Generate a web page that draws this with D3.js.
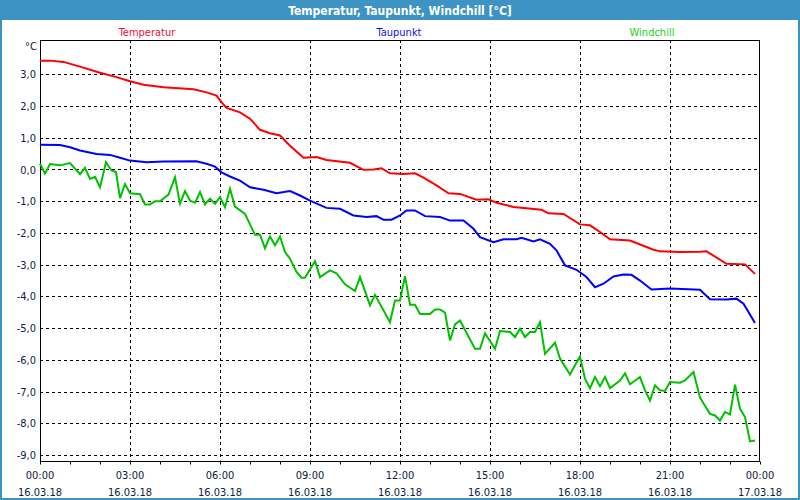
<!DOCTYPE html>
<html><head><meta charset="utf-8">
<script src="https://cdn.jsdelivr.net/npm/d3@7"></script>
<style>
html,body{margin:0;padding:0;background:#fff;}
svg{display:block;}
text{font-family:"DejaVu Sans Condensed","DejaVu Sans",sans-serif;}
</style></head><body>
<svg id="chart" width="800" height="500"></svg>
<script>
const title = "Temperatur, Taupunkt, Windchill [°C]";
const seriesNames = ["Temperatur", "Taupunkt", "Windchill"];
const seriesColors = ["#ff0000", "#0000ff", "#00c000"];
const legendColors = ["#f0103c", "#1010e0", "#20d020"];
const yTicks = [3, 2, 1, 0, -1, -2, -3, -4, -5, -6, -7, -8, -9];
const xTickHours = [0, 3, 6, 9, 12, 15, 18, 21, 24];
const xTickTimes = ["00:00","03:00","06:00","09:00","12:00","15:00","18:00","21:00","00:00"];
const xTickDates = ["16.03.18","16.03.18","16.03.18","16.03.18","16.03.18","16.03.18","16.03.18","16.03.18","17.03.18"];

// minutes since 16.03.18 00:00
const tempMinutes = [0,20,47,80,120,153,180,207,247,307,333,353,363,373,400,420,440,460,480,500,527,553,573,620,647,667,683,700,727,750,767,793,817,840,873,897,913,947,1003,1017,1047,1080,1100,1120,1140,1180,1227,1240,1280,1320,1333,1373,1410,1430];
const tempValues = [3.43,3.43,3.39,3.24,3.05,2.91,2.78,2.67,2.59,2.53,2.43,2.33,2.12,1.94,1.80,1.60,1.25,1.14,1.07,0.75,0.37,0.39,0.30,0.21,-0.01,0.0,0.04,-0.12,-0.14,-0.12,-0.26,-0.50,-0.75,-0.77,-0.95,-0.94,-1.05,-1.18,-1.27,-1.38,-1.40,-1.73,-1.76,-1.97,-2.20,-2.24,-2.53,-2.58,-2.60,-2.59,-2.58,-2.97,-2.99,-3.29];

const dewMinutes = [0,40,60,80,113,140,160,180,213,247,313,333,350,363,380,400,420,447,473,500,520,540,573,600,627,653,673,687,703,720,733,750,770,800,820,847,867,880,907,927,953,963,987,1000,1020,1033,1050,1073,1093,1110,1127,1147,1167,1183,1200,1223,1260,1320,1340,1373,1393,1407,1430];
const dewValues = [0.78,0.77,0.70,0.60,0.49,0.46,0.37,0.28,0.23,0.25,0.26,0.18,0.09,-0.09,-0.22,-0.35,-0.56,-0.64,-0.75,-0.68,-0.82,-0.98,-1.21,-1.24,-1.45,-1.50,-1.47,-1.58,-1.58,-1.45,-1.29,-1.29,-1.47,-1.50,-1.61,-1.61,-1.87,-2.13,-2.29,-2.20,-2.20,-2.15,-2.27,-2.20,-2.34,-2.55,-3.02,-3.16,-3.39,-3.71,-3.60,-3.37,-3.31,-3.32,-3.50,-3.78,-3.75,-3.79,-4.09,-4.10,-4.07,-4.23,-4.84];

const chillMinutes = [0,10,20,40,60,80,90,100,110,120,132,143,152,160,170,180,200,210,220,230,240,257,270,280,290,300,310,320,330,340,350,360,370,380,390,410,430,440,450,460,470,480,490,500,513,523,530,550,560,580,593,610,630,640,660,670,700,710,720,730,740,750,760,780,790,800,810,820,830,840,870,880,890,910,920,940,950,960,970,980,990,1000,1010,1030,1040,1060,1070,1080,1090,1100,1110,1120,1130,1140,1160,1170,1180,1200,1210,1220,1230,1240,1250,1260,1280,1290,1307,1320,1340,1350,1360,1370,1380,1390,1400,1410,1420,1430];
const chillValues = [0.18,-0.13,0.17,0.13,0.20,-0.15,0.05,-0.30,-0.23,-0.56,0.23,-0.03,-0.08,-0.90,-0.46,-0.75,-0.78,-1.10,-1.10,-1.00,-1.00,-0.79,-0.24,-1.08,-0.68,-0.98,-1.05,-0.71,-1.10,-0.92,-1.08,-0.87,-1.19,-0.61,-1.17,-1.40,-2.06,-2.06,-2.48,-2.11,-2.39,-2.11,-2.60,-2.81,-3.23,-3.41,-3.41,-2.89,-3.39,-3.18,-3.27,-3.62,-3.83,-3.39,-4.28,-3.95,-4.81,-4.13,-4.13,-3.36,-4.26,-4.26,-4.55,-4.55,-4.41,-4.41,-4.51,-5.39,-4.88,-4.76,-5.65,-5.65,-5.16,-5.65,-5.09,-5.12,-5.28,-5.02,-5.28,-5.12,-5.12,-4.81,-5.81,-5.46,-5.96,-6.46,-6.17,-5.89,-6.59,-6.89,-6.54,-6.83,-6.54,-6.89,-6.65,-6.42,-6.77,-6.54,-6.96,-7.28,-6.80,-6.96,-6.98,-6.70,-6.72,-6.65,-6.38,-7.19,-7.70,-7.75,-7.91,-7.64,-7.72,-6.78,-7.54,-7.80,-8.57,-8.54];

const svg = d3.select("#chart");
const W = 800, H = 500;
const L = 40, R = 760, T = 40, B = 460.5;

// window frame
svg.append("rect").attr("x",0).attr("y",0).attr("width",W).attr("height",H).attr("fill","#3d93c4");
svg.append("rect").attr("x",2).attr("y",20).attr("width",W-4).attr("height",H-22).attr("fill","#ffffff");
svg.append("text").attr("x",W/2).attr("y",14.5).attr("text-anchor","middle")
  .attr("fill","#ffffff").attr("font-weight","bold").attr("font-size","12px").text(title);

const x = d3.scaleLinear().domain([0, 1440]).range([L, R]);
const y = d3.scaleLinear().domain([-9.17, 4.08]).range([B, T]);

// grid
const g = svg.append("g");
g.selectAll("line.hg").data(yTicks).join("line")
  .attr("x1",L).attr("x2",R).attr("y1",d=>Math.round(y(d))+0.5).attr("y2",d=>Math.round(y(d))+0.5)
  .attr("stroke","#000").attr("stroke-width",1).attr("stroke-dasharray","3,3");
g.selectAll("line.vg").data(xTickHours.slice(1,-1)).join("line")
  .attr("x1",d=>Math.round(x(d*60))+0.5).attr("x2",d=>Math.round(x(d*60))+0.5).attr("y1",T).attr("y2",B)
  .attr("stroke","#000").attr("stroke-width",1).attr("stroke-dasharray","3,3");

// axes
const yAxis = d3.axisLeft(y).tickValues(yTicks).tickSize(0).tickPadding(4)
  .tickFormat(d => d3.format(".1f")(d).replace(".", ",").replace("−","-"));
const ya = svg.append("g").attr("transform",`translate(${L},0)`).call(yAxis);
ya.select(".domain").remove();
ya.selectAll("text").attr("font-size","11px").attr("fill","#102040").attr("font-family","'DejaVu Sans Condensed','DejaVu Sans',sans-serif");

const hourTicks = d3.range(0, 25).map(h => h*60);
const xAxis = d3.axisBottom(x).tickValues(hourTicks).tickSize(3).tickFormat("");
const xa = svg.append("g").attr("transform",`translate(0,${Math.round(B)+0.5})`).call(xAxis);
xa.select(".domain").remove();
xa.selectAll("line").attr("stroke","#000");

const labels = svg.append("g");
xTickHours.forEach((h,i) => {
  labels.append("text").attr("x",x(h*60)).attr("y",479).attr("text-anchor","middle")
    .attr("font-size","11px").attr("fill","#102040").text(xTickTimes[i]);
  labels.append("text").attr("x",x(h*60)).attr("y",496).attr("text-anchor","middle")
    .attr("font-size","11px").attr("fill","#102040").text(xTickDates[i]);
});

svg.append("text").attr("x",25).attr("y",50).attr("font-size","11px").attr("fill","#102040").text("°C");

// plot frame
svg.append("rect").attr("x",L+0.5).attr("y",T+0.5).attr("width",R-L-1).attr("height",Math.round(B)-T)
  .attr("fill","none").attr("stroke","#000").attr("stroke-width",1);

// lines
const series = [
  {m: tempMinutes, v: tempValues},
  {m: dewMinutes, v: dewValues},
  {m: chillMinutes, v: chillValues}
];
const line = d3.line().x(d=>x(d[0])).y(d=>y(d[1]));
series.forEach((s,i) => {
  const pts = s.m.map((m,j)=>[m, s.v[j]]);
  svg.append("path").datum(pts).attr("d",line).attr("fill","none")
    .attr("stroke",seriesColors[i]).attr("stroke-width",2).attr("stroke-linejoin","miter");
});

// legend
const legendX = [147, 399, 652];
seriesNames.forEach((n,i) => {
  svg.append("text").attr("x",legendX[i]).attr("y",36).attr("text-anchor","middle")
    .attr("font-size","11px").attr("fill",legendColors[i]).text(n);
});
</script>
</body></html>
